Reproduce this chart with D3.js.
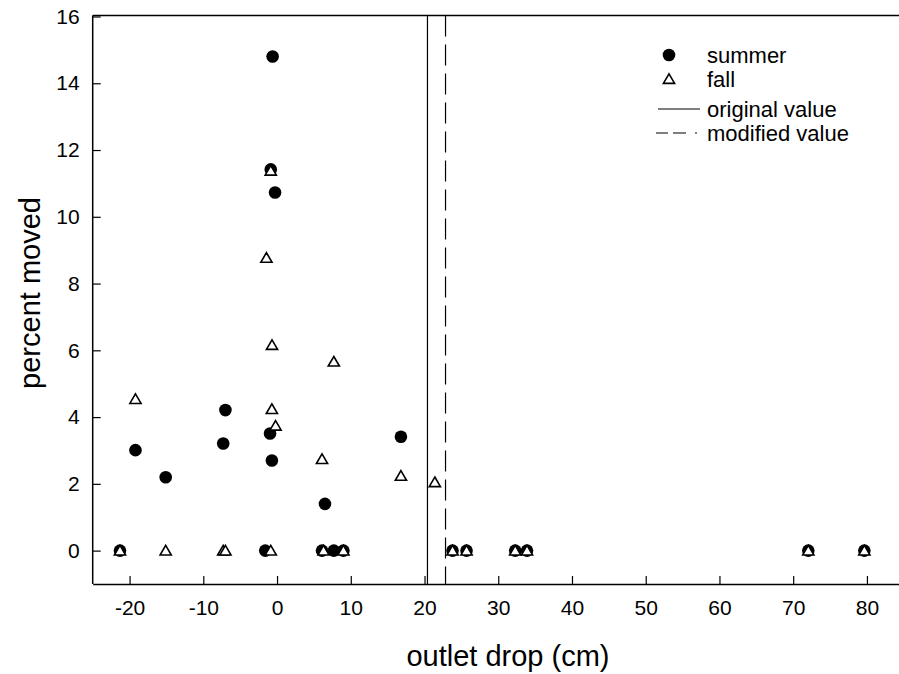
<!DOCTYPE html>
<html>
<head>
<meta charset="utf-8">
<script src="https://cdn.jsdelivr.net/npm/d3@7"></script>
<style>
  html, body { margin: 0; padding: 0; background: #fff; }
  svg { display: block; }
  text { font-family: "Liberation Sans", Arial, sans-serif; fill: #000; }
</style>
</head>
<body>
<svg id="chart" width="899" height="674"></svg>
<script>
// ---- data ----
const summerX = [-0.6, -0.85, -0.27, -7.0, -19.2, -7.3, -0.95, -0.7, -15.1, 16.8, 6.5,
                 -21.3, -1.6, 6.1, 7.7, 9.0, 23.8, 25.7, 32.3, 33.9, 72.05, 79.65];
const summerY = [14.8, 11.42, 10.73, 4.21, 3.01, 3.21, 3.51, 2.7, 2.2, 3.41, 1.4,
                 0, 0, 0, 0, 0, 0, 0, 0, 0, 0, 0];
const fallX = [-19.2, -0.85, -1.44, -0.68, 7.7, -0.7, -0.2, 6.1, 16.8, 21.4,
               -21.3, -15.1, -7.3, -7.0, -0.85, 6.3, 9.0, 23.8, 25.7, 32.3, 33.9, 72.05, 79.65];
const fallY = [4.54, 11.38, 8.77, 6.16, 5.66, 4.24, 3.74, 2.74, 2.24, 2.05,
               0, 0, 0, 0, 0, 0, 0, 0, 0, 0, 0, 0, 0];
const originalValue = 20.4;
const modifiedValue = 22.85;
const xTicks = [-20, -10, 0, 10, 20, 30, 40, 50, 60, 70, 80];
const yTicks = [0, 2, 4, 6, 8, 10, 12, 14, 16];
const legendLabels = ["summer", "fall", "original value", "modified value"];
const xTitle = "outlet drop (cm)";
const yTitle = "percent moved";

// ---- layout ----
const svg = d3.select("#chart");
const plotLeft = 92.7, plotTop = 15.5, plotBottom = 584, plotRight = 903.8;
const x = d3.scaleLinear().domain([-25, 85]).range([plotLeft, plotRight]);
const y = d3.scaleLinear().domain([-1, 16]).range([plotBottom, 16.5]);

// frame: left, bottom, top (right edge falls outside the page)
svg.append("line").attr("x1", plotLeft).attr("x2", plotLeft).attr("y1", plotTop).attr("y2", plotBottom)
  .attr("stroke", "#000").attr("stroke-width", 1.5);
svg.append("line").attr("x1", plotLeft).attr("x2", plotRight).attr("y1", plotTop).attr("y2", plotTop)
  .attr("stroke", "#000").attr("stroke-width", 1.5);

const xAxis = d3.axisBottom(x).tickValues(xTicks).tickSizeInner(-8).tickSizeOuter(0).tickPadding(16)
  .tickFormat(d3.format("d"));
const gx = svg.append("g").attr("transform", `translate(0,${plotBottom})`).call(xAxis);
gx.select(".domain").attr("stroke-width", 1.5);
gx.selectAll(".tick line").attr("stroke-width", 1.2);
gx.selectAll("text").attr("font-size", 21).style("font-family", "Liberation Sans, Arial, sans-serif")
  .text(d => d < 0 ? "-" + Math.abs(d) : d);

const yAxis = d3.axisLeft(y).tickValues(yTicks).tickSizeInner(-8).tickSizeOuter(0).tickPadding(13);
const gy = svg.append("g").attr("transform", `translate(${plotLeft},0)`).call(yAxis);
gy.select(".domain").remove();
gy.selectAll(".tick line").attr("stroke-width", 1.2);
gy.selectAll("text").attr("font-size", 21).style("font-family", "Liberation Sans, Arial, sans-serif");

// titles
svg.append("text").attr("x", 508).attr("y", 666).attr("text-anchor", "middle")
  .attr("font-size", 29).text(xTitle);
svg.append("text").attr("transform", `translate(40,${293}) rotate(-90)`).attr("text-anchor", "middle")
  .attr("font-size", 29).text(yTitle);

// reference lines
svg.append("line").attr("x1", x(originalValue)).attr("x2", x(originalValue))
  .attr("y1", plotTop).attr("y2", plotBottom).attr("stroke", "#000").attr("stroke-width", 1.2);
svg.append("line").attr("x1", x(modifiedValue)).attr("x2", x(modifiedValue))
  .attr("y1", plotTop).attr("y2", plotBottom).attr("stroke", "#000").attr("stroke-width", 1.2)
  .attr("stroke-dasharray", "21,8");

// markers
const summer = summerX.map((v, i) => ({x: v, y: summerY[i]}));
const fall = fallX.map((v, i) => ({x: v, y: fallY[i]}));
const triPath = "M0,-5.2L5.6,4.4L-5.6,4.4Z";

svg.append("g").selectAll("circle").data(summer).join("circle")
  .attr("cx", d => x(d.x)).attr("cy", d => y(d.y)).attr("r", 6.3).attr("fill", "#000");
svg.append("g").selectAll("path").data(fall).join("path")
  .attr("d", triPath).attr("transform", d => `translate(${x(d.x)},${y(d.y)})`)
  .attr("fill", "#fff").attr("stroke", "#000").attr("stroke-width", 1.6);

// legend
const lg = svg.append("g");
const lx = 669, textX = 707, rows = [55, 79, 109, 133];
lg.append("circle").attr("cx", lx).attr("cy", rows[0]).attr("r", 6.3).attr("fill", "#000");
lg.append("path").attr("d", triPath).attr("transform", `translate(${lx},${rows[1]})`)
  .attr("fill", "#fff").attr("stroke", "#000").attr("stroke-width", 1.6);
lg.append("line").attr("x1", 658).attr("x2", 700).attr("y1", rows[2]).attr("y2", rows[2])
  .attr("stroke", "#000").attr("stroke-width", 1.2);
lg.append("line").attr("x1", 656).attr("x2", 700).attr("y1", rows[3]).attr("y2", rows[3])
  .attr("stroke", "#000").attr("stroke-width", 1.2).attr("stroke-dasharray", "12,5,13,9,2,4");
legendLabels.forEach((t, i) => {
  lg.append("text").attr("x", textX).attr("y", rows[i]).attr("dy", "0.35em")
    .attr("font-size", 22).text(t);
});
</script>
</body>
</html>
